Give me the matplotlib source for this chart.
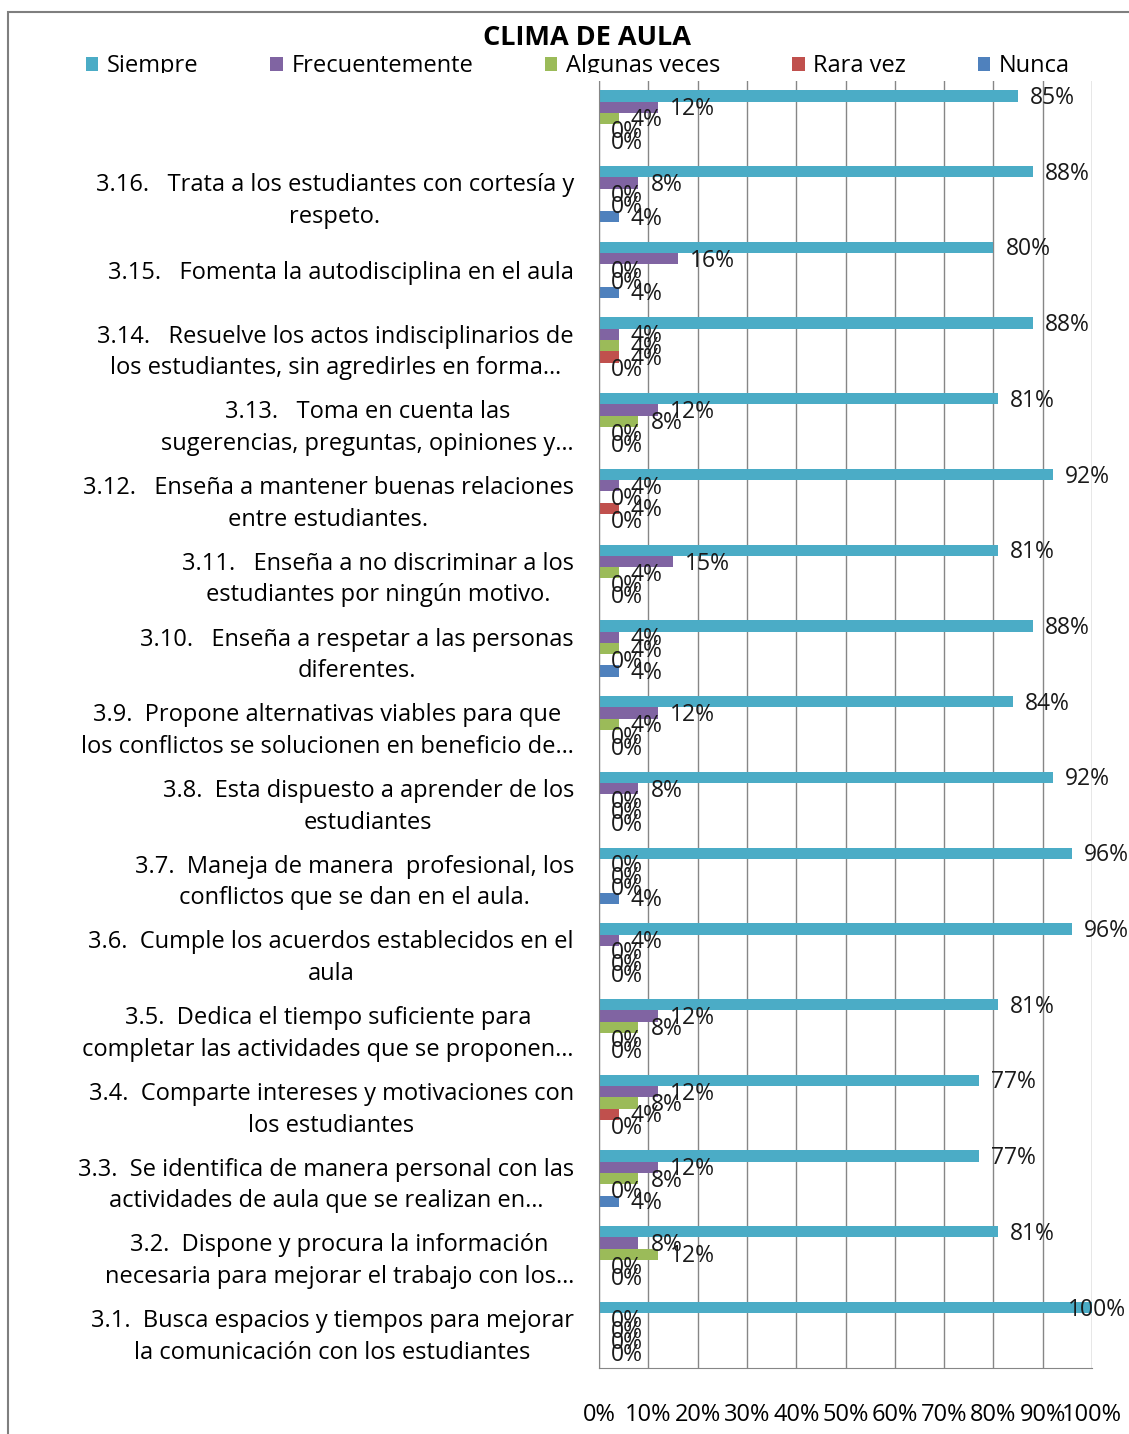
import matplotlib
matplotlib.use("Agg")
import matplotlib.pyplot as plt
import numpy as np
from matplotlib.patches import Rectangle, Patch
from matplotlib.ticker import PercentFormatter

plt.rcParams["font.family"] = ["Open Sans", "DejaVu Sans"]

categorias = [
    "",
    "3.16.   Trata a los estudiantes con cortesía y\nrespeto.",
    "3.15.   Fomenta la autodisciplina en el aula",
    "3.14.   Resuelve los actos indisciplinarios de\nlos estudiantes, sin agredirles en forma…",
    "3.13.   Toma en cuenta las\nsugerencias, preguntas, opiniones y…",
    "3.12.   Enseña a mantener buenas relaciones\nentre estudiantes.",
    "3.11.   Enseña a no discriminar a los\nestudiantes por ningún motivo.",
    "3.10.   Enseña a respetar a las personas\ndiferentes.",
    "3.9.  Propone alternativas viables para que\nlos conflictos se solucionen en beneficio de…",
    "3.8.  Esta dispuesto a aprender de los\nestudiantes",
    "3.7.  Maneja de manera  profesional, los\nconflictos que se dan en el aula.",
    "3.6.  Cumple los acuerdos establecidos en el\naula",
    "3.5.  Dedica el tiempo suficiente para\ncompletar las actividades que se proponen…",
    "3.4.  Comparte intereses y motivaciones con\nlos estudiantes",
    "3.3.  Se identifica de manera personal con las\nactividades de aula que se realizan en…",
    "3.2.  Dispone y procura la información\nnecesaria para mejorar el trabajo con los…",
    "3.1.  Busca espacios y tiempos para mejorar\nla comunicación con los estudiantes",
]

siempre = [0.85, 0.88, 0.80, 0.88, 0.81, 0.92, 0.81, 0.88, 0.84, 0.92, 0.96, 0.96, 0.81, 0.77, 0.77, 0.81, 1.00]
frecuentemente = [0.12, 0.08, 0.16, 0.04, 0.12, 0.04, 0.15, 0.04, 0.12, 0.08, 0.00, 0.04, 0.12, 0.12, 0.12, 0.08, 0.00]
algunas_veces = [0.04, 0.00, 0.00, 0.04, 0.08, 0.00, 0.04, 0.04, 0.04, 0.00, 0.00, 0.00, 0.08, 0.08, 0.08, 0.12, 0.00]
rara_vez = [0.00, 0.00, 0.00, 0.04, 0.00, 0.04, 0.00, 0.00, 0.00, 0.00, 0.00, 0.00, 0.00, 0.04, 0.00, 0.00, 0.00]
nunca = [0.00, 0.04, 0.04, 0.00, 0.00, 0.00, 0.00, 0.04, 0.00, 0.00, 0.04, 0.00, 0.00, 0.00, 0.04, 0.00, 0.00]

series = [
    ("Siempre", siempre, "#4BACC6"),
    ("Frecuentemente", frecuentemente, "#8064A2"),
    ("Algunas veces", algunas_veces, "#9BBB59"),
    ("Rara vez", rara_vez, "#C0504D"),
    ("Nunca", nunca, "#4F81BD"),
]

W, H = 1129, 1434
fig = plt.figure(figsize=(W / 100, H / 100), dpi=100)
ax = fig.add_axes([599 / W, 1 - 1368 / H, (1092 - 599) / W, (1368 - 80.6) / H])

y = np.arange(len(categorias))
h = 0.149
for i, (nombre, vals, color) in enumerate(series):
    pos = y + (i - 2) * h
    ax.barh(pos, vals, height=h, color=color, label=nombre, zorder=2)
    for p, v in zip(pos, vals):
        dx = -24 if v >= 0.995 else 12
        ax.annotate(f"{round(v * 100)}%", (v, p), xytext=(dx, -2),
                    textcoords="offset pixels", ha="left", va="center",
                    fontsize=16.5, color="#1a1a1a", annotation_clip=False, zorder=3)

ax.set_xlim(0, 1)
ax.set_ylim(len(categorias) - 0.5, -0.5)
ax.set_xticks(np.arange(0, 1.01, 0.1))
ax.xaxis.set_major_formatter(PercentFormatter(1.0, decimals=0))
ax.set_yticks(y)
ax.set_yticklabels(categorias, multialignment="center", fontsize=17, linespacing=1.42)
ax.tick_params(axis="y", length=0, pad=18)
ax.tick_params(axis="x", length=0, pad=25, labelsize=17)
ax.grid(axis="x", color="#868686", linewidth=1, zorder=1)
ax.set_axisbelow(True)
for s in ["top", "right"]:
    ax.spines[s].set_visible(False)
for s in ["left", "bottom"]:
    ax.spines[s].set_color("#868686")

fig.text(587 / W, 1 - 38 / H, "CLIMA DE AULA", ha="center", va="center",
         fontsize=19.5, fontweight="bold")

handles = [Patch(facecolor=c, label=n) for n, _, c in series]
fig.legend(handles=handles, loc="center left", bbox_to_anchor=(86 / W, 1 - 66 / H),
           ncol=5, frameon=False, fontsize=17, handlelength=0.52, handleheight=0.52,
           handletextpad=0.38, columnspacing=3.03, borderaxespad=0, borderpad=0)

# la zona del grafico tapa la parte baja de la leyenda, como en el original
fig.patches.append(Rectangle((20 / W, 1 - 80.6 / H), 1, 7.6 / H, transform=fig.transFigure,
                             facecolor="white", edgecolor="none", zorder=10))
fig.patches.append(Rectangle((8 / W, -0.05), 1.2, 1.05 - 12 / H, transform=fig.transFigure,
                             facecolor="none", edgecolor="#7f7f7f", linewidth=1.5, zorder=11))

fig.savefig("out.png", dpi=100)
